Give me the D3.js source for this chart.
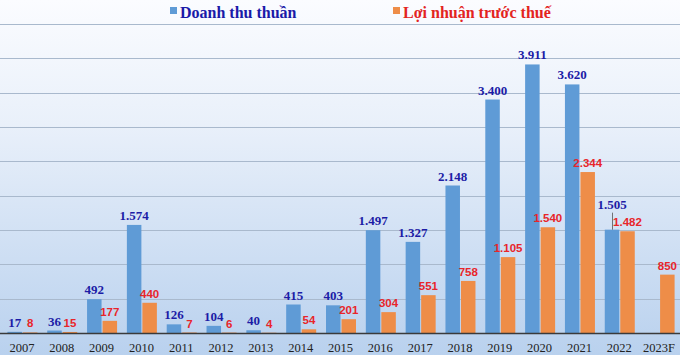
<!DOCTYPE html>
<html><head><meta charset="utf-8">
<script src="https://cdn.jsdelivr.net/npm/d3@7"></script>
<style>html,body{margin:0;padding:0;background:#fff;}svg{display:block;}</style>
</head><body>
<svg id="chart" width="680" height="355"></svg>
<script>
const categories = ["2007","2008","2009","2010","2011","2012","2013","2014","2015","2016","2017","2018","2019","2020","2021","2022","2023F"];
const revenue = [17,36,492,1574,126,104,40,415,403,1497,1327,2148,3400,3911,3620,1505,null];
const profit  = [8,15,177,440,7,6,4,54,201,304,551,758,1105,1540,2344,1482,850];
const seriesNames = ["Doanh thu thuần","Lợi nhuận trước thuế"];
const yTicks = [0,500,1000,1500,2000,2500,3000,3500,4000,4500];

const fmt = v => d3.format(",")(v).replace(/,/g,".");
const svg = d3.select("#chart");
const W = 680, H = 355;

const defs = svg.append("defs");
const grad = defs.append("linearGradient").attr("id","bg").attr("x1",0).attr("y1",0).attr("x2",0).attr("y2",1);
grad.append("stop").attr("offset","0%").attr("stop-color","#fbfcff");
grad.append("stop").attr("offset","35%").attr("stop-color","#e9f0fa");
grad.append("stop").attr("offset","100%").attr("stop-color","#b9d1ee");
svg.append("rect").attr("width",W).attr("height",H).attr("fill","url(#bg)");

const x = d3.scaleBand().domain(categories).range([2,679]).padding(0);
const y = d3.scaleLinear().domain([0,4500]).range([333,24]);

// gridlines
svg.append("g").selectAll("line").data(yTicks.slice(1)).join("line")
  .attr("x1",0).attr("x2",W).attr("y1",d=>Math.round(y(d))+0.5).attr("y2",d=>Math.round(y(d))+0.5)
  .attr("stroke","#a9b9cd").attr("stroke-width",1);

const blue = "#5f9bd6", orange = "#ee8d48";
const bw = 14.5;
const cx = c => x(c) + x.bandwidth()/2;

// revenue bars
svg.append("g").selectAll("rect").data(categories.map((c,i)=>({c,v:revenue[i]})).filter(d=>d.v!=null)).join("rect")
  .attr("x",d=>cx(d.c)-bw).attr("width",bw)
  .attr("y",d=>y(d.v)).attr("height",d=>y(0)-y(d.v)).attr("fill",blue);
// profit bars
svg.append("g").selectAll("rect").data(categories.map((c,i)=>({c,v:profit[i]}))).join("rect")
  .attr("x",d=>cx(d.c)+1).attr("width",bw)
  .attr("y",d=>y(d.v)).attr("height",d=>y(0)-y(d.v)).attr("fill",orange);

// baseline
svg.append("line").attr("x1",0).attr("x2",W).attr("y1",y(0)+0.5).attr("y2",y(0)+0.5)
  .attr("stroke","#3a3a3a").attr("stroke-width",1.6);

// labels
const revData = categories.map((c,i)=>({c,v:revenue[i],p:profit[i]})).filter(d=>d.v!=null);
revData.forEach(d=>{
  const close = Math.abs(d.v-d.p) < 200 && d.v > 1000;
  const yy = y(d.v) - (close ? 21 : 5);
  svg.append("text").attr("x",cx(d.c)-bw/2).attr("y",yy)
    .attr("text-anchor","middle")
    .attr("font-family","'Liberation Serif','Times New Roman',serif").attr("font-weight","bold")
    .attr("font-size","13px").attr("fill","#1c1ca6").text(fmt(d.v));
  if(close){
    svg.append("line").attr("x1",cx(d.c)-bw/2+0.5).attr("x2",cx(d.c)-bw/2+0.5)
      .attr("y1",yy+4).attr("y2",y(d.v)).attr("stroke","#555").attr("stroke-width",0.8);
  }
});
categories.forEach((c,i)=>{
  svg.append("text").attr("x",cx(c)+1+bw/2).attr("y",y(profit[i])-5)
    .attr("text-anchor","middle")
    .attr("font-family","'Liberation Sans',Arial,sans-serif").attr("font-weight","bold")
    .attr("font-size","11.5px").attr("fill","#e8252a").text(fmt(profit[i]));
});

// x axis labels
const xAxis = d3.axisBottom(x).tickSize(0).tickPadding(10);
const gx = svg.append("g").attr("transform",`translate(0,${y(0)})`).call(xAxis);
gx.select(".domain").remove();
gx.selectAll("text").attr("font-family","'Liberation Serif','Times New Roman',serif")
  .attr("font-size","12.5px").attr("fill","#222");

// legend
const leg = [{name:seriesNames[0],col:blue,txt:"#1a1aa8",x:170},{name:seriesNames[1],col:orange,txt:"#e3241f",x:393}];
leg.forEach(l=>{
  svg.append("rect").attr("x",l.x).attr("y",7).attr("width",7).attr("height",7).attr("fill",l.col);
  svg.append("text").attr("x",l.x+10).attr("y",17.5)
    .attr("font-family","'Liberation Serif','Times New Roman',serif").attr("font-weight","bold")
    .attr("font-size","16px").attr("fill",l.txt).text(l.name);
});
</script>
</body></html>
